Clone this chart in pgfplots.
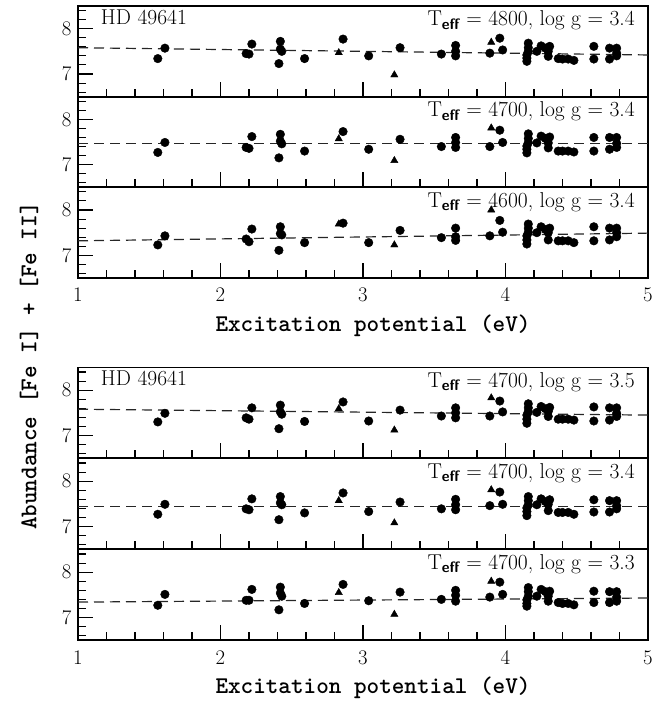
\documentclass[border=0pt]{standalone}
\usepackage{fontspec}
\usepackage{pgfplots}
\usepackage{pgfplotstable}
\pgfplotsset{compat=1.18}

% bold typewriter face for the axis titles
\newfontfamily\labelfont{lmmonolt10-bold}[Extension=.otf]

% Fe I line abundances, one column per model atmosphere (panels 1..6)
\pgfplotstableread{
x    p1   p2   p3   p4   p5   p6
1.56 7.34 7.27 7.23 7.30 7.27 7.27
1.61 7.57 7.49 7.43 7.49 7.49 7.51
2.18 7.45 7.38 7.36 7.39 7.39 7.38
2.20 7.44 7.36 7.30 7.36 7.37 7.38
2.22 7.66 7.62 7.58 7.61 7.61 7.62
2.42 7.72 7.67 7.63 7.67 7.66 7.67
2.42 7.55 7.52 7.48 7.52 7.52 7.54
2.43 7.50 7.46 7.45 7.47 7.48 7.47
2.41 7.23 7.15 7.11 7.15 7.15 7.17
2.59 7.34 7.30 7.28 7.31 7.30 7.31
2.86 7.77 7.73 7.71 7.74 7.74 7.73
3.04 7.40 7.34 7.28 7.32 7.33 7.37
3.26 7.58 7.56 7.55 7.56 7.54 7.56
3.55 7.44 7.40 7.39 7.43 7.39 7.40
3.65 7.63 7.60 7.60 7.61 7.60 7.60
3.65 7.50 7.49 7.41 7.50 7.48 7.49
3.65 7.40 7.38 7.33 7.39 7.37 7.36
3.89 7.46 7.40 7.43 7.43 7.46 7.45
3.96 7.79 7.76 7.77 7.76 7.76 7.78
3.98 7.53 7.49 7.51 7.52 7.49 7.51
4.16 7.68 7.68 7.69 7.70 7.66 7.66
4.16 7.58 7.58 7.60 7.61 7.57 7.57
4.16 7.50 7.49 7.51 7.53 7.48 7.47
4.15 7.42 7.41 7.43 7.45 7.41 7.39
4.15 7.35 7.34 7.34 7.36 7.33 7.31
4.15 7.28 7.26 7.25 7.27 7.24 7.25
4.22 7.50 7.48 7.50 7.51 7.48 7.47
4.25 7.62 7.63 7.63 7.64 7.61 7.62
4.28 7.57 7.58 7.57 7.59 7.55 7.57
4.30 7.50 7.48 7.50 7.53 7.49 7.47
4.31 7.61 7.61 7.60 7.62 7.59 7.58
4.30 7.39 7.37 7.34 7.42 7.35 7.36
4.37 7.34 7.30 7.32 7.36 7.31 7.33
4.40 7.33 7.30 7.32 7.36 7.31 7.31
4.44 7.33 7.30 7.32 7.36 7.31 7.31
4.48 7.30 7.28 7.28 7.34 7.27 7.28
4.62 7.61 7.60 7.63 7.63 7.59 7.58
4.62 7.33 7.30 7.32 7.32 7.32 7.33
4.73 7.57 7.60 7.60 7.61 7.57 7.57
4.73 7.33 7.34 7.34 7.34 7.32 7.33
4.78 7.57 7.60 7.60 7.61 7.57 7.57
4.78 7.46 7.47 7.50 7.49 7.46 7.45
4.78 7.40 7.38 7.41 7.42 7.39 7.36
}\feone

% Fe II line abundances
\pgfplotstableread{
x    p1   p2   p3   p4   p5   p6
2.83 7.47 7.57 7.69 7.59 7.57 7.55
3.22 6.98 7.09 7.23 7.12 7.08 7.07
3.90 7.70 7.81 8.00 7.83 7.81 7.80
}\fetwo

\newcommand{\labfont}{\labelfont\fontsize{24}{27}\selectfont}
\newcommand{\txtfont}{\fontsize{21.5}{24}\selectfont}

\pgfplotsset{
  panel/.style={
    scale only axis, width=570pt, height=90.67pt, anchor=north west,
    xmin=1, xmax=5, ymin=6.5, ymax=8.5,
    xtick={1,2,3,4,5}, ytick={6,7,8,9},
    minor x tick num=4, minor y tick num=4,
    tick align=inside, xtick pos=bottom, ytick pos=left,
    major tick length=15pt, minor tick length=8pt,
    axis line style={line width=1.9pt},
    tick style={line width=1.1pt, black},
    tick label style={font=\fontsize{22}{25}\selectfont},
    yticklabel style={xshift=-3pt},
  },
  nolabels/.style={xticklabels={}},
  withlabel/.style={
    xlabel={Excitation potential (eV)},
    xlabel style={font=\labfont, yshift=-6pt, xshift=10pt},
    xticklabel style={yshift=-7pt},
  },
  fe1/.style={only marks, mark=*, mark size=4.3pt, black},
  fe2/.style={only marks, mark=triangle*, mark size=4.2pt, black},
  fit/.style={black!85, line width=1.2pt, dash pattern=on 10pt off 6pt},
}

\newcommand{\teff}[2]{T\textsubscript{\sffamily\bfseries eff} = #1, log g = #2}

\begin{document}
\begin{tikzpicture}
\useasboundingbox (0pt,0pt) rectangle (654pt,-704pt);

% ---- upper group: varying Teff ----
\begin{axis}[panel, nolabels, at={(78pt,-6pt)}]
  \addplot[fit] coordinates {(1,7.58) (5,7.42)};
  \addplot[fe1] table[x=x, y=p1] {\feone};
  \addplot[fe2] table[x=x, y=p1] {\fetwo};
  \node[anchor=base west, inner sep=0pt, font=\txtfont] at (rel axis cs:0.04,0.80) {HD 49641};
  \node[anchor=base east, inner sep=0pt, font=\txtfont] at (rel axis cs:0.977,0.78) {\teff{4800}{3.4}};
\end{axis}

\begin{axis}[panel, nolabels, at={(78pt,-96.67pt)}]
  \addplot[fit] coordinates {(1,7.46) (5,7.46)};
  \addplot[fe1] table[x=x, y=p2] {\feone};
  \addplot[fe2] table[x=x, y=p2] {\fetwo};
  \node[anchor=base east, inner sep=0pt, font=\txtfont] at (rel axis cs:0.977,0.78) {\teff{4700}{3.4}};
\end{axis}

\begin{axis}[panel, withlabel, at={(78pt,-187.33pt)}]
  \addplot[fit] coordinates {(1,7.32) (5,7.49)};
  \addplot[fe1] table[x=x, y=p3] {\feone};
  \addplot[fe2] table[x=x, y=p3] {\fetwo};
  \node[anchor=base east, inner sep=0pt, font=\txtfont] at (rel axis cs:0.977,0.78) {\teff{4600}{3.4}};
\end{axis}

% ---- lower group: varying log g ----
\begin{axis}[panel, nolabels, at={(78pt,-367.5pt)}]
  \addplot[fit] coordinates {(1,7.58) (5,7.45)};
  \addplot[fe1] table[x=x, y=p4] {\feone};
  \addplot[fe2] table[x=x, y=p4] {\fetwo};
  \node[anchor=base west, inner sep=0pt, font=\txtfont] at (rel axis cs:0.04,0.80) {HD 49641};
  \node[anchor=base east, inner sep=0pt, font=\txtfont] at (rel axis cs:0.977,0.78) {\teff{4700}{3.5}};
\end{axis}

\begin{axis}[panel, nolabels, at={(78pt,-458.5pt)}]
  \addplot[fit] coordinates {(1,7.45) (5,7.45)};
  \addplot[fe1] table[x=x, y=p5] {\feone};
  \addplot[fe2] table[x=x, y=p5] {\fetwo};
  \node[anchor=base east, inner sep=0pt, font=\txtfont] at (rel axis cs:0.977,0.78) {\teff{4700}{3.4}};
\end{axis}

\begin{axis}[panel, withlabel, at={(78pt,-549.5pt)}]
  \addplot[fit] coordinates {(1,7.34) (5,7.43)};
  \addplot[fe1] table[x=x, y=p6] {\feone};
  \addplot[fe2] table[x=x, y=p6] {\fetwo};
  \node[anchor=base east, inner sep=0pt, font=\txtfont] at (rel axis cs:0.977,0.78) {\teff{4700}{3.3}};
\end{axis}

% shared ordinate title
\node[rotate=90, font=\labfont] at (29pt,-366pt) {Abundance [Fe I] + [Fe II]};
\end{tikzpicture}
\end{document}
